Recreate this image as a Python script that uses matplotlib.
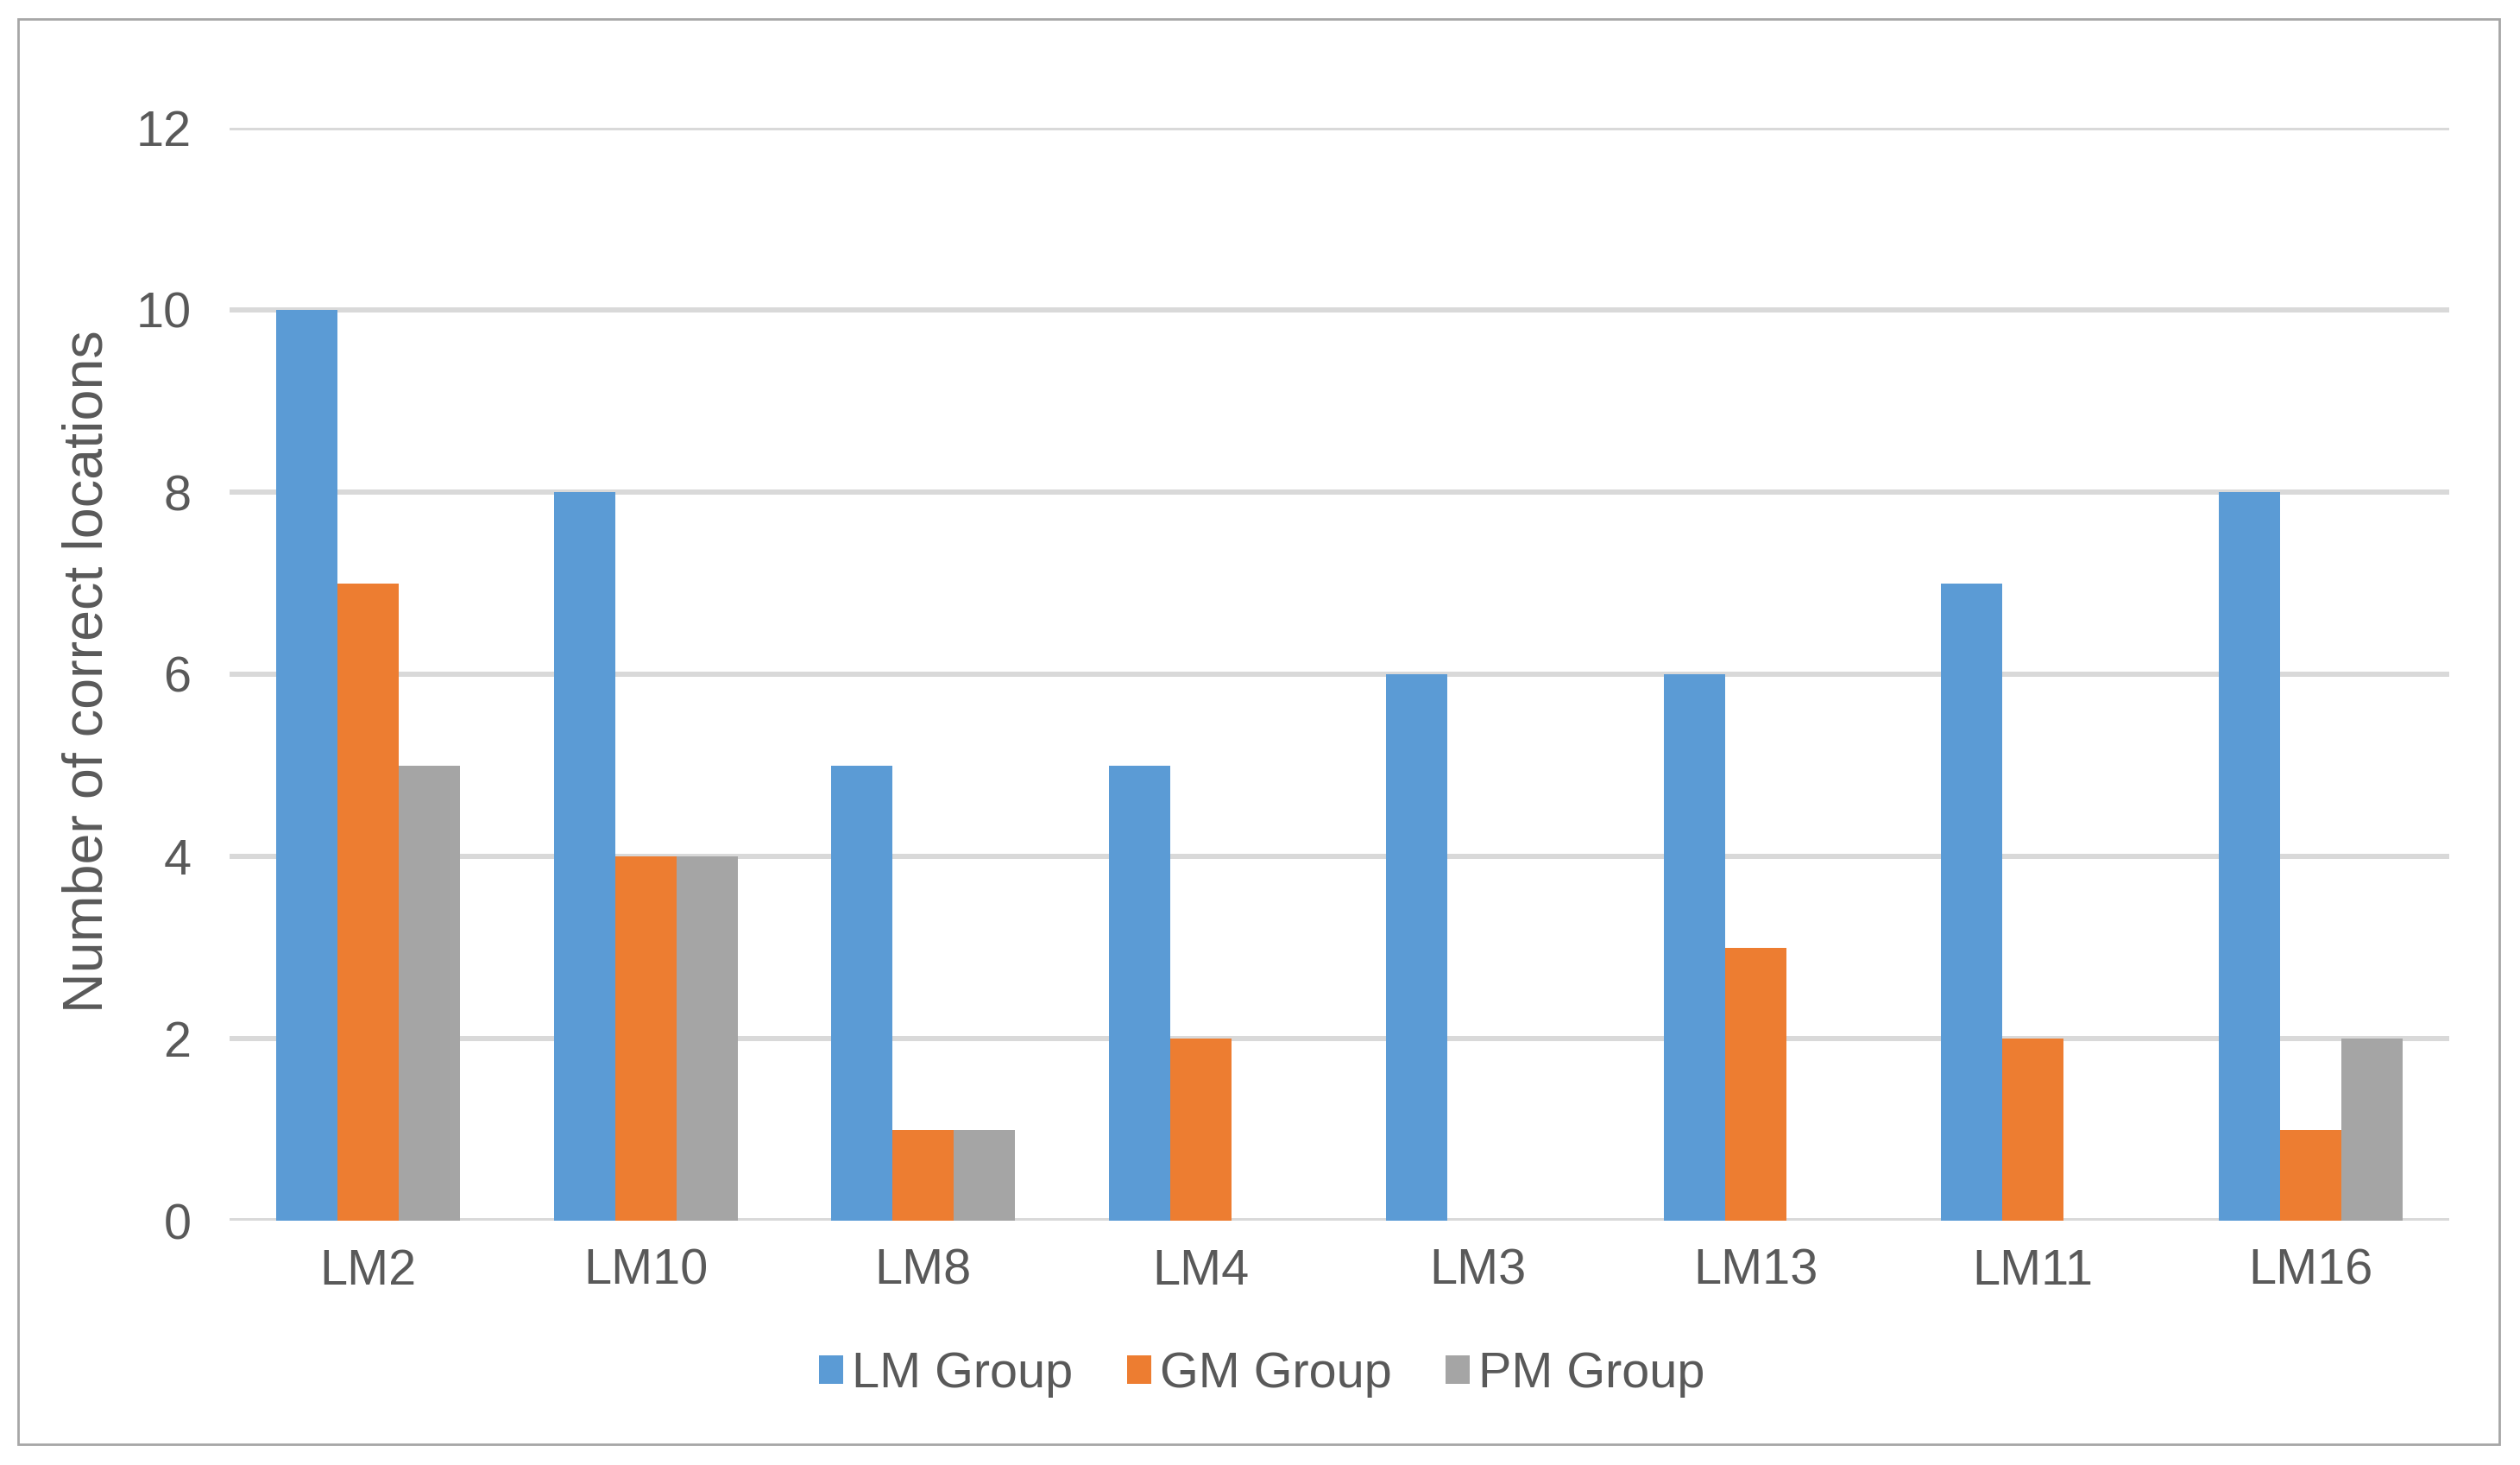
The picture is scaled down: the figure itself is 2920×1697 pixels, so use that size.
import matplotlib
matplotlib.use("Agg")
import matplotlib.pyplot as plt
import numpy as np
from matplotlib.patches import Rectangle

# data
categories = ["LM2", "LM10", "LM8", "LM4", "LM3", "LM13", "LM11", "LM16"]
lm_group = [10, 8, 5, 5, 6, 6, 7, 8]
gm_group = [7, 4, 1, 2, 0, 3, 2, 1]
pm_group = [5, 4, 1, 0, 0, 0, 0, 2]
series_names = ["LM Group", "GM Group", "PM Group"]
y_ticks = [0, 2, 4, 6, 8, 10, 12]

COLORS = ["#5B9BD5", "#ED7D31", "#A5A5A5"]
TEXT = "#595959"
GRID = "#D9D9D9"

plt.rcParams["font.family"] = ["Liberation Sans", "DejaVu Sans"]

fig = plt.figure(figsize=(29.2, 16.97), dpi=100)
ax = fig.add_axes([266 / 2920, 1 - 1414 / 1697, (2838 - 266) / 2920, (1414 - 148) / 1697])

x = np.arange(len(categories))
w = 0.221
for i, (vals, name) in enumerate(zip([lm_group, gm_group, pm_group], series_names)):
    ax.bar(x + (i - 1) * w, vals, w, color=COLORS[i], label=name, zorder=3)

ax.set_xlim(-0.5, len(categories) - 0.5)
ax.set_ylim(0, 12)
ax.set_yticks(y_ticks)
ax.set_xticks(x)
ax.set_xticklabels(categories)
ax.tick_params(axis="both", length=0, labelsize=41.5, labelcolor=TEXT)
ax.tick_params(axis="y", pad=32)
ax.tick_params(axis="x", pad=23)
ax.grid(axis="y", color=GRID, linewidth=4.3, zorder=0)
for s in ax.spines.values():
    s.set_visible(False)

fig.text(102 / 2920, 1 - 778 / 1697, "Number of correct locations", rotation=90,
         ha="center", va="center", fontsize=46.5, color=TEXT)

leg = fig.legend(loc="center", bbox_to_anchor=(0.5007, 0.0619), ncol=3, frameon=False,
                 fontsize=41.5, handlelength=0.49, handleheight=0.49,
                 handletextpad=0.17, columnspacing=1.09)
for t in leg.get_texts():
    t.set_color(TEXT)

fig.patches.append(Rectangle((21 / 2920, 1 - 1673 / 1697), 2875 / 2920, 1651 / 1697,
                             transform=fig.transFigure, fill=False,
                             edgecolor="#A6A6A6", linewidth=2))

fig.savefig("out.png", dpi=100, facecolor="white")
